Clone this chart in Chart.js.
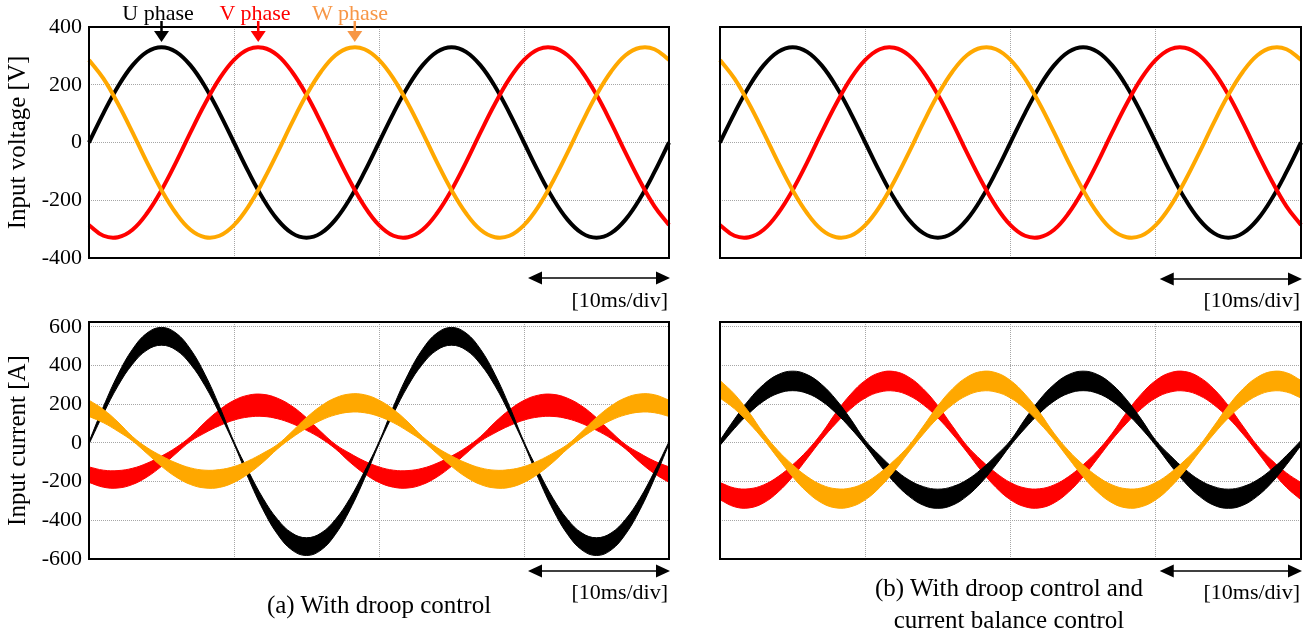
<!DOCTYPE html>
<html>
<head>
<meta charset="utf-8">
<script src="https://cdn.jsdelivr.net/npm/chart.js"></script>
<style>
  html, body { margin: 0; padding: 0; background: #fff; overflow: hidden; }
  body { width: 1313px; height: 639px; position: relative; font-family: 'Liberation Serif', 'Times New Roman', serif; color: #000; }
  canvas { position: absolute; }
  .lbl { position: absolute; transform: translate(-50%, -50%); white-space: nowrap; line-height: 1; font-size: 22px; }
  .div-note { position: absolute; transform: translate(-100%, -50%); white-space: nowrap; line-height: 1; font-size: 22px; }
  .caption { position: absolute; transform: translate(-50%, -50%); white-space: nowrap; font-size: 25px; line-height: 32px; text-align: center; }
</style>
</head>
<body>
<canvas id="voltA" width="690" height="290" style="left:0;top:0"></canvas>
<canvas id="voltB" width="613" height="290" style="left:700px;top:0"></canvas>
<canvas id="currA" width="690" height="300" style="left:0;top:295px"></canvas>
<canvas id="currB" width="613" height="300" style="left:700px;top:295px"></canvas>

<div class="lbl" style="left:158px;top:13px;color:#000">U phase</div>
<div class="lbl" style="left:255px;top:13px;color:#ff0000">V phase</div>
<div class="lbl" style="left:350px;top:13px;color:#f79646">W phase</div>

<div class="div-note" style="left:668px;top:300px">[10ms/div]</div>
<div class="div-note" style="left:1300px;top:300px">[10ms/div]</div>
<div class="div-note" style="left:668px;top:592px">[10ms/div]</div>
<div class="div-note" style="left:1300px;top:592px">[10ms/div]</div>

<div class="caption" style="left:379px;top:605px">(a) With droop control</div>
<div class="caption" style="left:1009px;top:604px">(b) With droop control and<br>current balance control</div>

<script>
// time axis, 1 ms per sample, 10 ms per division
const timeMs = [0, 1, 2, 3, 4, 5, 6, 7, 8, 9, 10, 11, 12, 13, 14, 15, 16, 17, 18, 19, 20,
  21, 22, 23, 24, 25, 26, 27, 28, 29, 30, 31, 32, 33, 34, 35, 36, 37, 38, 39, 40];
const voltageTicks = [-400, -200, 0, 200, 400];
const currentTicks = [-600, -400, -200, 0, 200, 400, 600];
const phasePeakMs = [5, 11.67, 18.33];   // U, V, W voltage maxima
const scaleBarMs = [30, 40];

// input voltage [V]
const uVoltage = [0, 102, 194, 267, 314, 330, 314, 267, 194, 102, 0, -102, -194, -267, -314, -330, -314, -267, -194, -102,
  0, 102, 194, 267, 314, 330, 314, 267, 194, 102, 0, -102, -194, -267, -314, -330, -314, -267, -194, -102, 0];
const vVoltage = [-286, -323, -328, -302, -245, -165, -69, 35, 134, 221, 286, 323, 328, 302, 245, 165, 69, -35, -134, -221,
  -286, -323, -328, -302, -245, -165, -69, 35, 134, 221, 286, 323, 328, 302, 245, 165, 69, -35, -134, -221, -286];
const wVoltage = [286, 221, 134, 35, -69, -165, -245, -302, -328, -323, -286, -221, -134, -35, 69, 165, 245, 302, 328, 323,
  286, 221, 134, 35, -69, -165, -245, -302, -328, -323, -286, -221, -134, -35, 69, 165, 245, 302, 328, 323, 286];

// input current [A], droop control only: upper / lower edge of the ripple band
const uCurrentA_upper = [6, 189, 354, 484, 568, 597, 568, 484, 354, 189, 6, -147, -286, -395, -466, -490, -466, -395, -286, -147,
  6, 189, 354, 484, 568, 597, 568, 484, 354, 189, 6, -147, -286, -395, -466, -490, -466, -395, -286, -147, 6];
const uCurrentA_lower = [-6, 152, 295, 407, 480, 505, 480, 407, 295, 152, -6, -184, -345, -472, -554, -582, -554, -472, -345, -184,
  -6, 152, 295, 407, 480, 505, 480, 407, 295, 152, -6, -184, -345, -472, -554, -582, -554, -472, -345, -184, -6];
const vCurrentA_upper = [-124, -141, -143, -131, -105, -68, -24, 33, 107, 171, 220, 247, 251, 231, 190, 130, 58, -8, -54, -94,
  -124, -141, -143, -131, -105, -68, -24, 33, 107, 171, 220, 247, 251, 231, 190, 130, 58, -8, -54, -94, -124];
const vCurrentA_lower = [-204, -229, -233, -215, -176, -121, -55, 8, 52, 89, 118, 134, 137, 125, 100, 65, 23, -31, -100, -159,
  -204, -229, -233, -215, -176, -121, -55, 8, 52, 89, 118, 134, 137, 125, 100, 65, 23, -31, -100, -159, -204];
const wCurrentA_upper = [221, 173, 108, 33, -24, -67, -103, -129, -141, -138, -122, -92, -53, -8, 59, 131, 191, 233, 253, 249,
  221, 173, 108, 33, -24, -67, -103, -129, -141, -138, -122, -92, -53, -8, 59, 131, 191, 233, 253, 249, 221];
const wCurrentA_lower = [137, 104, 60, 10, -55, -121, -176, -215, -233, -230, -204, -159, -100, -31, 27, 76, 117, 145, 159, 156,
  137, 104, 60, 10, -55, -121, -176, -215, -233, -230, -204, -159, -100, -31, 27, 76, 117, 145, 159, 156, 137];

// input current [A], droop control + current balance control
const uCurrentB_upper = [13, 123, 223, 302, 353, 371, 353, 302, 223, 123, 13, -65, -135, -191, -226, -239, -226, -191, -135, -65,
  13, 123, 223, 302, 353, 371, 353, 302, 223, 123, 13, -65, -135, -191, -226, -239, -226, -191, -135, -65, 13];
const uCurrentB_lower = [-13, 75, 153, 216, 256, 270, 256, 216, 153, 75, -13, -113, -204, -275, -322, -338, -322, -275, -204, -113,
  -13, 75, 153, 216, 256, 270, 256, 216, 153, 75, -13, -113, -204, -275, -322, -338, -322, -275, -204, -113, -13];
const vCurrentB_upper = [-205, -233, -237, -217, -174, -113, -40, 50, 158, 252, 323, 363, 369, 340, 279, 192, 87, -14, -90, -155,
  -205, -233, -237, -217, -174, -113, -40, 50, 158, 252, 323, 363, 369, 340, 279, 192, 87, -14, -90, -155, -205];
const vCurrentB_lower = [-294, -330, -336, -310, -254, -175, -80, 17, 102, 176, 232, 263, 268, 245, 197, 129, 46, -47, -145, -230,
  -294, -330, -336, -310, -254, -175, -80, 17, 102, 176, 232, 263, 268, 245, 197, 129, 46, -47, -145, -230, -294];
const wCurrentB_upper = [323, 252, 158, 50, -40, -113, -174, -217, -237, -233, -205, -155, -90, -14, 87, 192, 279, 340, 369, 363,
  323, 252, 158, 50, -40, -113, -174, -217, -237, -233, -205, -155, -90, -14, 87, 192, 279, 340, 369, 363, 323];
const wCurrentB_lower = [232, 176, 102, 17, -80, -175, -254, -310, -336, -330, -294, -230, -145, -47, 46, 129, 197, 245, 268, 263,
  232, 176, 102, 17, -80, -175, -254, -310, -336, -330, -294, -230, -145, -47, 46, 129, 197, 245, 268, 263, 232];

const COLOR_U = '#000000';
const COLOR_V = '#ff0000';
const COLOR_W = '#ffa800';
const GRID = '#a6a6a6';
const FONT = "'Liberation Serif', 'Times New Roman', serif";

function arrowHead(ctx, tipX, tipY, dx, dy, len, half) {
  // dx/dy: unit direction the arrow points to
  const bx = tipX - dx * len, by = tipY - dy * len;
  ctx.beginPath();
  ctx.moveTo(tipX, tipY);
  ctx.lineTo(bx - dy * half, by + dx * half);
  ctx.lineTo(bx + dy * half, by - dx * half);
  ctx.closePath();
  ctx.fill();
}

// box frame, 10 ms/div bar and phase markers
const panelDecor = {
  id: 'panelDecor',
  afterDraw(chart, args, opts) {
    const { ctx, chartArea: a, scales: { x } } = chart;
    ctx.save();
    ctx.strokeStyle = '#000';
    ctx.lineWidth = 2;
    ctx.strokeRect(a.left, a.top, a.right - a.left, a.bottom - a.top);

    const y = a.bottom + opts.barOffset;
    const x0 = x.getPixelForValue(scaleBarMs[0]) + 4;
    const x1 = x.getPixelForValue(scaleBarMs[1]) + 1;
    ctx.fillStyle = '#000';
    ctx.lineWidth = 1.3;
    ctx.beginPath();
    ctx.moveTo(x0 + 8, y);
    ctx.lineTo(x1 - 8, y);
    ctx.stroke();
    arrowHead(ctx, x0, y, -1, 0, 14, 6.5);
    arrowHead(ctx, x1, y, 1, 0, 14, 6.5);

    if (opts.markers) {
      const colors = [COLOR_U, COLOR_V, '#f79646'];
      phasePeakMs.forEach((t, i) => {
        const px = x.getPixelForValue(t);
        ctx.strokeStyle = colors[i];
        ctx.fillStyle = colors[i];
        ctx.lineWidth = 2.5;
        ctx.beginPath();
        ctx.moveTo(px, a.top - 6);
        ctx.lineTo(px, a.top + 6);
        ctx.stroke();
        arrowHead(ctx, px, a.top + 15, 0, 1, 11, 7.5);
      });
    }
    ctx.restore();
  }
};

function lineSet(data, color) {
  return { data, borderColor: color, borderWidth: 4, fill: false };
}

function band(upper, lower, color) {
  return [
    { data: upper, borderColor: color, backgroundColor: color, borderWidth: 1, fill: '+1' },
    { data: lower, borderColor: color, borderWidth: 1, fill: false }
  ];
}

function makeChart(id, cfg) {
  const ticks = cfg.tickValues;
  return new Chart(document.getElementById(id), {
    type: 'line',
    data: { labels: timeMs, datasets: cfg.datasets },
    options: {
      responsive: false,
      animation: false,
      devicePixelRatio: 1,
      layout: { padding: cfg.padding },
      elements: { point: { radius: 0 }, line: { tension: 0.4 } },
      plugins: {
        legend: { display: false },
        tooltip: { enabled: false },
        panelDecor: { barOffset: cfg.barOffset, markers: !!cfg.markers }
      },
      scales: {
        x: {
          ticks: { display: false, autoSkip: false },
          grid: {
            drawTicks: false,
            color: c => (c.tick && c.tick.value % 10 === 0) ? GRID : 'rgba(0,0,0,0)'
          },
          border: { display: false, dash: [1, 1] },
          afterFit: s => { s.height = 0; }
        },
        y: {
          min: cfg.min,
          max: cfg.max,
          afterBuildTicks: s => { s.ticks = ticks.map(v => ({ value: v })); },
          ticks: {
            display: cfg.showTicks,
            padding: 7,
            color: '#000',
            font: { family: FONT, size: 22 }
          },
          grid: { drawTicks: false, color: GRID },
          border: { display: false, dash: [1, 1] },
          title: {
            display: !!cfg.title,
            text: cfg.title || '',
            color: '#000',
            font: { family: FONT, size: 25 },
            padding: { top: 3, bottom: 0 }
          },
          afterFit: s => { s.width = cfg.axisWidth; }
        }
      }
    },
    plugins: [panelDecor]
  });
}

const voltageSets = () => [lineSet(wVoltage, COLOR_W), lineSet(vVoltage, COLOR_V), lineSet(uVoltage, COLOR_U)];

makeChart('voltA', {
  datasets: voltageSets(), min: -400, max: 400, tickValues: voltageTicks,
  showTicks: true, title: 'Input voltage [V]', axisWidth: 89,
  padding: { left: 0, top: 27, right: 21, bottom: 32 }, barOffset: 20, markers: true
});
makeChart('voltB', {
  datasets: voltageSets(), min: -400, max: 400, tickValues: voltageTicks,
  showTicks: false, axisWidth: 20,
  padding: { left: 0, top: 27, right: 12, bottom: 32 }, barOffset: 21
});
makeChart('currA', {
  datasets: [
    ...band(wCurrentA_upper, wCurrentA_lower, COLOR_W),
    ...band(uCurrentA_upper, uCurrentA_lower, COLOR_U),
    ...band(vCurrentA_upper, vCurrentA_lower, COLOR_V)
  ],
  min: -600, max: 625, tickValues: currentTicks,
  showTicks: true, title: 'Input current [A]', axisWidth: 89,
  padding: { left: 0, top: 27, right: 21, bottom: 36 }, barOffset: 12
});
makeChart('currB', {
  datasets: [
    ...band(wCurrentB_upper, wCurrentB_lower, COLOR_W),
    ...band(uCurrentB_upper, uCurrentB_lower, COLOR_U),
    ...band(vCurrentB_upper, vCurrentB_lower, COLOR_V)
  ],
  min: -600, max: 625, tickValues: currentTicks,
  showTicks: false, axisWidth: 20,
  padding: { left: 0, top: 27, right: 12, bottom: 36 }, barOffset: 12
});
</script>
</body>
</html>
